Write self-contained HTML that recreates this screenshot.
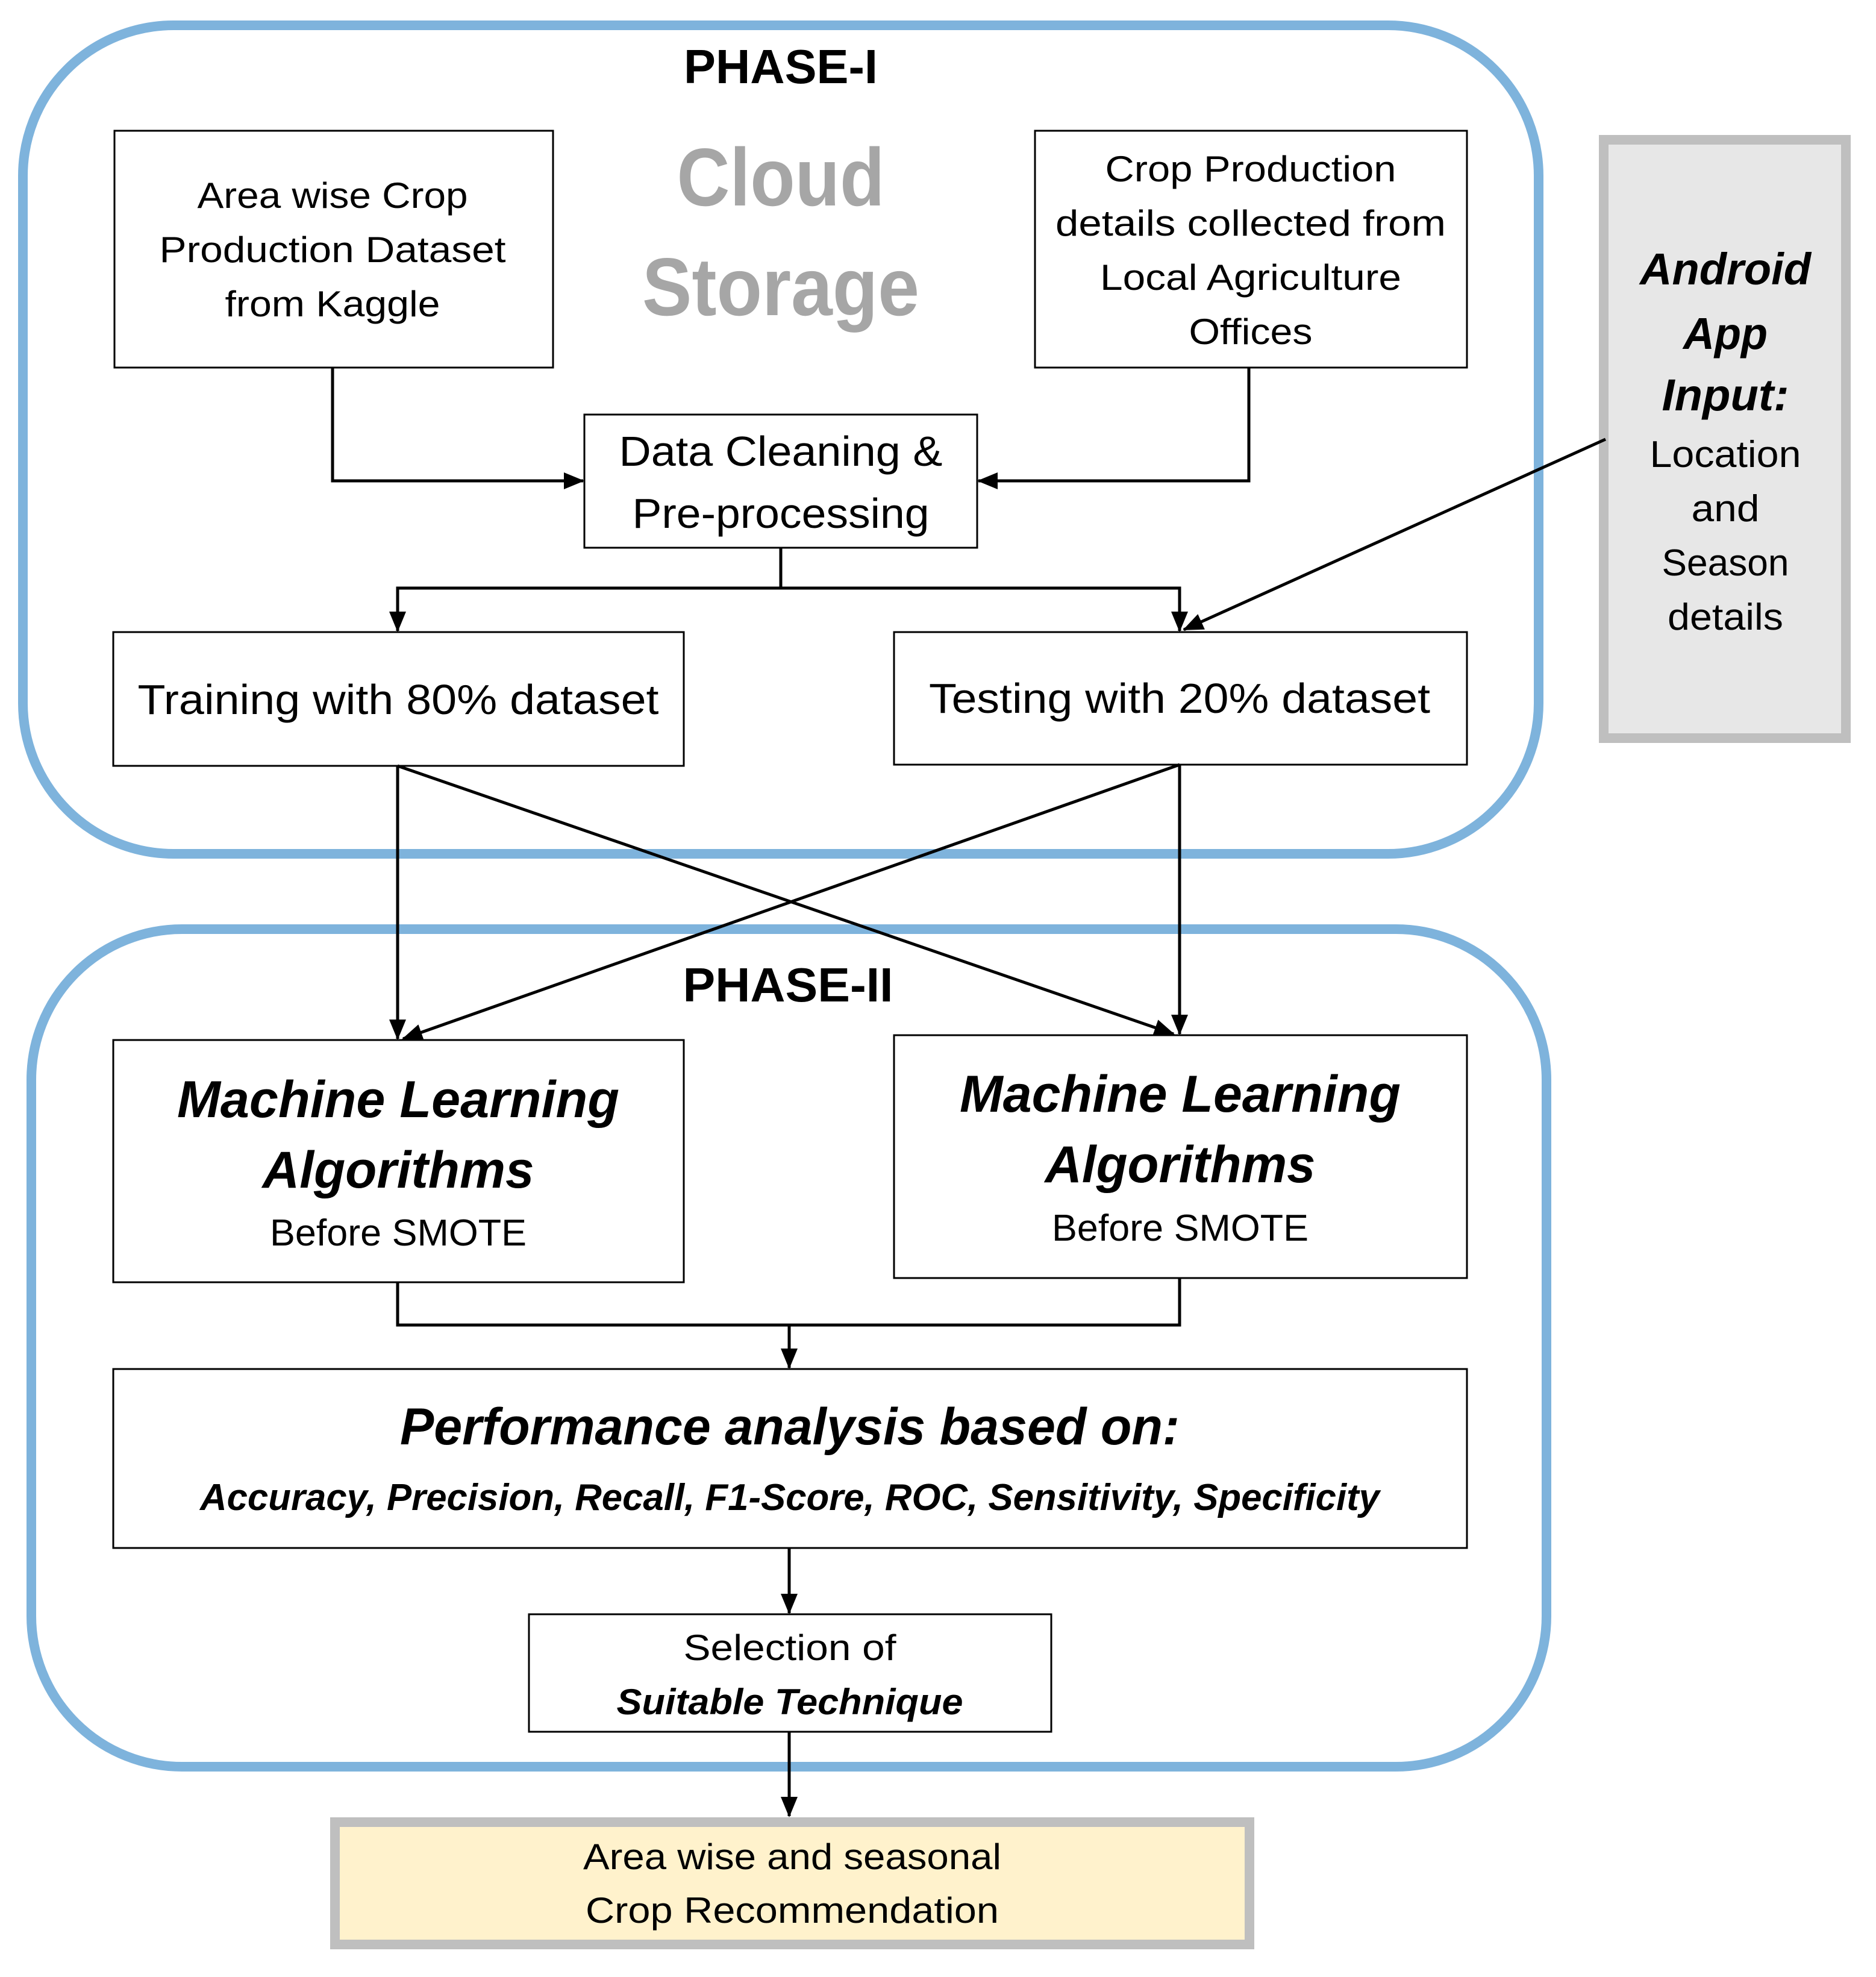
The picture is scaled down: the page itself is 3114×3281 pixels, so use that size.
<!DOCTYPE html>
<html><head><meta charset="utf-8"><style>
html,body{margin:0;padding:0;background:#fff}
svg{display:block}
text{font-family:"Liberation Sans",sans-serif;fill:#000}
</style></head><body>
<svg width="3114" height="3281" viewBox="0 0 3114 3281" xmlns="http://www.w3.org/2000/svg">
<defs>
<marker id="a" markerUnits="userSpaceOnUse" markerWidth="34" markerHeight="28" refX="32" refY="14" orient="auto">
<path d="M0,0 L34,14 L0,28 Z" fill="#000"/>
</marker>
</defs>
<!-- phase containers -->
<rect x="38" y="42" width="2516" height="1375" rx="250" ry="250" fill="none" stroke="#7eb3dc" stroke-width="16"/>
<rect x="52" y="1542" width="2515" height="1390" rx="250" ry="250" fill="none" stroke="#7eb3dc" stroke-width="16"/>

<!-- android -->
<rect x="2662" y="232" width="402" height="993" fill="#e7e7e7" stroke="#bfbfbf" stroke-width="16"/>
<!-- final -->
<rect x="556" y="3024" width="1518" height="203" fill="#fff2cc" stroke="#bfbfbf" stroke-width="16"/>

<g fill="#fff" stroke="#000" stroke-width="3">
<rect x="190" y="217" width="728" height="393"/>
<rect x="1718" y="217" width="717" height="393"/>
<rect x="970" y="688" width="652" height="221"/>
<rect x="188" y="1049" width="947" height="222"/>
<rect x="1484" y="1049" width="951" height="220"/>
<rect x="188" y="1726" width="947" height="402"/>
<rect x="1484" y="1718" width="951" height="403"/>
<rect x="188" y="2272" width="2247" height="297"/>
<rect x="878" y="2679" width="867" height="195"/>
</g>

<g fill="none" stroke="#000" stroke-width="5">
<path d="M552,610 V798 H968" marker-end="url(#a)"/>
<path d="M2073,610 V798 H1624" marker-end="url(#a)"/>
<path d="M1296,909 V976"/>
<path d="M1296,976 H660 V1047" marker-end="url(#a)"/>
<path d="M1296,976 H1958 V1047" marker-end="url(#a)"/>
<path d="M2665,729 L1965,1045" marker-end="url(#a)"/>
<path d="M660,1271 V1724" marker-end="url(#a)"/>
<path d="M1958,1269 V1716" marker-end="url(#a)"/>
<path d="M660,1271 L1948,1716" marker-end="url(#a)"/>
<path d="M1958,1269 L669,1724" marker-end="url(#a)"/>
<path d="M660,2128 V2199 H1958 V2121"/>
<path d="M1310,2199 V2270" marker-end="url(#a)"/>
<path d="M1310,2569 V2677" marker-end="url(#a)"/>
<path d="M1310,2874 V3014" marker-end="url(#a)"/>
</g>

<g text-anchor="middle" lengthAdjust="spacingAndGlyphs">
<text x="1296" y="138" font-size="80" font-weight="bold" textLength="322" lengthAdjust="spacingAndGlyphs">PHASE-I</text>
<text x="1296" y="341" font-size="136" font-weight="bold" fill="#a6a6a6" style="fill:#a6a6a6" textLength="345" lengthAdjust="spacingAndGlyphs">Cloud</text>
<text x="1296" y="523" font-size="136" font-weight="bold" style="fill:#a6a6a6" textLength="460" lengthAdjust="spacingAndGlyphs">Storage</text>

<text x="552" y="345" font-size="60" textLength="449" lengthAdjust="spacingAndGlyphs">Area wise Crop</text>
<text x="552" y="435" font-size="60" textLength="575" lengthAdjust="spacingAndGlyphs">Production Dataset</text>
<text x="552" y="525" font-size="60" textLength="357" lengthAdjust="spacingAndGlyphs">from Kaggle</text>

<text x="2076" y="301" font-size="60" textLength="483" lengthAdjust="spacingAndGlyphs">Crop Production</text>
<text x="2076" y="391" font-size="60" textLength="648" lengthAdjust="spacingAndGlyphs">details collected from</text>
<text x="2076" y="481" font-size="60" textLength="500" lengthAdjust="spacingAndGlyphs">Local Agriculture</text>
<text x="2076" y="571" font-size="60" textLength="205" lengthAdjust="spacingAndGlyphs">Offices</text>

<text x="1296" y="773" font-size="70" textLength="537" lengthAdjust="spacingAndGlyphs">Data Cleaning &amp;</text>
<text x="1296" y="876" font-size="70" textLength="493" lengthAdjust="spacingAndGlyphs">Pre-processing</text>

<text x="661" y="1185" font-size="70" textLength="865" lengthAdjust="spacingAndGlyphs">Training with 80% dataset</text>
<text x="1958" y="1183" font-size="70" textLength="832" lengthAdjust="spacingAndGlyphs">Testing with 20% dataset</text>

<text x="2864" y="472" font-size="74" font-weight="bold" font-style="italic" textLength="284" lengthAdjust="spacingAndGlyphs">Android</text>
<text x="2864" y="579" font-size="74" font-weight="bold" font-style="italic" textLength="140" lengthAdjust="spacingAndGlyphs">App</text>
<text x="2864" y="681" font-size="74" font-weight="bold" font-style="italic" textLength="211" lengthAdjust="spacingAndGlyphs">Input:</text>
<text x="2864" y="775" font-size="62" textLength="251" lengthAdjust="spacingAndGlyphs">Location</text>
<text x="2864" y="865" font-size="62" textLength="113" lengthAdjust="spacingAndGlyphs">and</text>
<text x="2864" y="955" font-size="62" textLength="211" lengthAdjust="spacingAndGlyphs">Season</text>
<text x="2864" y="1045" font-size="62" textLength="192" lengthAdjust="spacingAndGlyphs">details</text>

<text x="1308" y="1662" font-size="80" font-weight="bold" textLength="349" lengthAdjust="spacingAndGlyphs">PHASE-II</text>

<text x="661" y="1854" font-size="86" font-weight="bold" font-style="italic" textLength="734" lengthAdjust="spacingAndGlyphs">Machine Learning</text>
<text x="661" y="1971" font-size="86" font-weight="bold" font-style="italic" textLength="451" lengthAdjust="spacingAndGlyphs">Algorithms</text>
<text x="661" y="2067" font-size="62" textLength="426" lengthAdjust="spacingAndGlyphs">Before SMOTE</text>

<text x="1959" y="1845" font-size="86" font-weight="bold" font-style="italic" textLength="732" lengthAdjust="spacingAndGlyphs">Machine Learning</text>
<text x="1959" y="1962" font-size="86" font-weight="bold" font-style="italic" textLength="449" lengthAdjust="spacingAndGlyphs">Algorithms</text>
<text x="1959" y="2059" font-size="62" textLength="426" lengthAdjust="spacingAndGlyphs">Before SMOTE</text>

<text x="1311" y="2397" font-size="86" font-weight="bold" font-style="italic" textLength="1294" lengthAdjust="spacingAndGlyphs">Performance analysis based on:</text>
<text x="1311" y="2506" font-size="62" font-weight="bold" font-style="italic" textLength="1958" lengthAdjust="spacingAndGlyphs">Accuracy, Precision, Recall, F1-Score, ROC, Sensitivity, Specificity</text>

<text x="1311" y="2755" font-size="60" textLength="353" lengthAdjust="spacingAndGlyphs">Selection of</text>
<text x="1311" y="2845" font-size="60" font-weight="bold" font-style="italic" textLength="575" lengthAdjust="spacingAndGlyphs">Suitable Technique</text>

<text x="1315" y="3102" font-size="60" textLength="694" lengthAdjust="spacingAndGlyphs">Area wise and seasonal</text>
<text x="1315" y="3191" font-size="60" textLength="686" lengthAdjust="spacingAndGlyphs">Crop Recommendation</text>
</g>
</svg>
</body></html>
